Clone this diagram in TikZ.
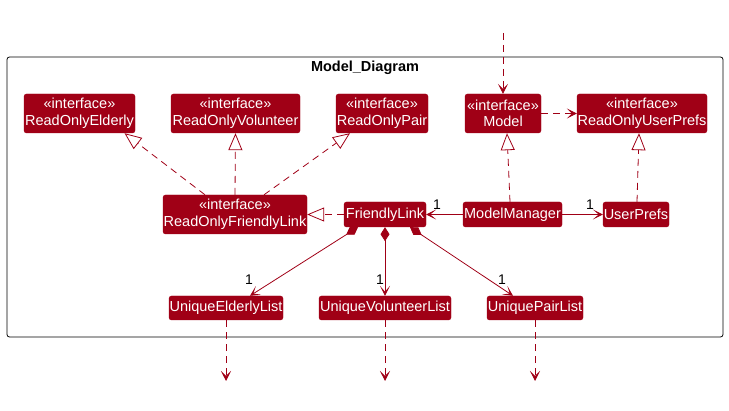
\documentclass[tikz,border=0pt]{standalone}
\usepackage{fontspec}
\setmainfont{Liberation Sans}
\usetikzlibrary{positioning,arrows.meta,calc}
\definecolor{umlred}{RGB}{160,0,22}
\tikzset{
  iface/.style={draw=umlred,fill=umlred,rounded corners=2.5pt,minimum height=39pt,inner sep=0pt,align=center,text=white,font=\fontsize{14.5}{16.5}\selectfont},
  klass/.style={draw=umlred,fill=umlred,rounded corners=2.5pt,minimum height=24pt,inner sep=0pt,align=center,text=white,font=\fontsize{14.5}{16.5}\selectfont},
  realize/.style={-{Triangle[open,length=17pt,width=14pt]},line width=0.8pt,draw=umlred,dash pattern=on 7pt off 5pt},
  depend/.style={-{Stealth[length=10pt,width=10pt,inset=5pt]},line width=0.8pt,draw=umlred,dash pattern=on 7pt off 5pt},
  assoc/.style={-{Stealth[length=10pt,width=10pt,inset=6pt]},line width=0.8pt,draw=umlred},
  compose/.style={{Diamond[length=14pt,width=9pt]}-{Stealth[length=10pt,width=10pt,inset=6pt]},line width=0.8pt,draw=umlred},
  mult/.style={font=\fontsize{14}{16}\selectfont,inner sep=0pt}
}
\begin{document}
\begin{tikzpicture}[x=1pt,y=-1pt]
\useasboundingbox (0,0) rectangle (729,411);
% Rahmen Model_Diagram
\draw[line width=0.8pt,rounded corners=2.5pt] (7,57) rectangle (723,337);
\node[font=\fontsize{14.5}{16.5}\selectfont\bfseries] (title) at (365,68) {Model\_Diagram};

\node[iface,minimum width=111pt] (roe) at (79.5,113.5) {«interface»\\ReadOnlyElderly};
\node[iface,minimum width=129pt] (rov) at (235.5,113.5) {«interface»\\ReadOnlyVolunteer};
\node[iface,minimum width=92pt] (rop) at (382,113.5) {«interface»\\ReadOnlyPair};
\node[iface,minimum width=76pt] (model) at (503,113.5) {«interface»\\Model};
\node[iface,minimum width=130pt] (roup) at (642,113.5) {«interface»\\ReadOnlyUserPrefs};
\node[iface,minimum width=144pt] (rofl) at (235,214.5) {«interface»\\ReadOnlyFriendlyLink};
\node[klass,minimum width=82pt,minimum height=25pt] (fl) at (385,214.5) {FriendlyLink};
\node[klass,minimum width=99pt,minimum height=25pt] (mm) at (512.5,214.5) {ModelManager};
\node[klass,minimum width=66pt,minimum height=25pt] (up) at (636,214.5) {UserPrefs};
\node[klass,minimum width=114pt] (uel) at (226,308) {UniqueElderlyList};
\node[klass,minimum width=132pt] (uvl) at (385,308) {UniqueVolunteerList};
\node[klass,minimum width=96pt] (upl) at (535,308) {UniquePairList};

\coordinate (in) at (503,33);
\coordinate (outE) at (226,381);
\coordinate (outV) at (385,381);
\coordinate (outP) at (535,381);

\draw[depend] (in) -- (model.north);
\draw[depend] (model.east) -- (roup.west);
\draw[realize] ([xshift=-30pt]rofl.north) -- ([xshift=45pt]roe.south);
\draw[realize] (rofl.north) -- (rov.south);
\draw[realize] ([xshift=29pt]rofl.north) -- ([xshift=-32pt]rop.south);
\draw[realize] ([xshift=-2.5pt]mm.north) -- ([xshift=4pt]model.south);
\draw[realize] ([xshift=1pt]up.north) -- ([xshift=-3pt]roup.south);
\draw[realize] (fl.west) -- (rofl.east);
\draw[assoc] (mm.west) -- (fl.east);
\draw[assoc] (mm.east) -- (up.west);
\draw[compose] ([xshift=-27pt]fl.south) -- ([xshift=24pt]uel.north);
\draw[compose] (fl.south) -- (uvl.north);
\draw[compose] ([xshift=25pt]fl.south) -- ([xshift=-22pt]upl.north);
\draw[depend] (uel.south) -- (outE);
\draw[depend] (uvl.south) -- (outV);
\draw[depend] (upl.south) -- (outP);

\node[mult] (m1) at (437,205) {1};
\node[mult] (m2) at (590,205) {1};
\node[mult] (m3) at (249,280) {1};
\node[mult] (m4) at (380,280) {1};
\node[mult] (m5) at (502,280) {1};
\end{tikzpicture}
\end{document}
